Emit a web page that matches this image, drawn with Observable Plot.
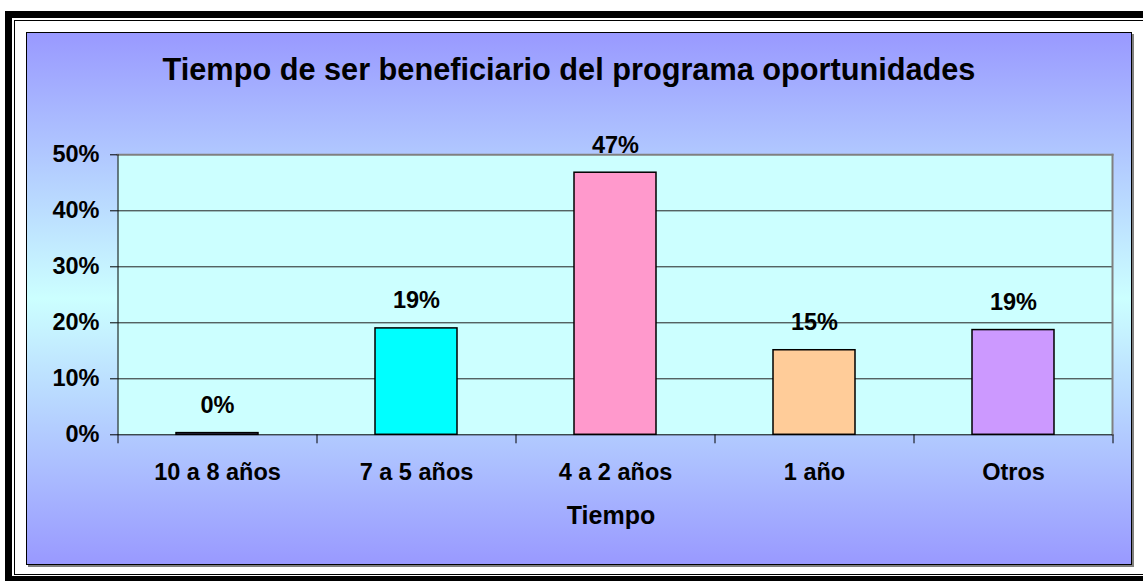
<!DOCTYPE html>
<html>
<head>
<meta charset="utf-8">
<script src="https://cdn.jsdelivr.net/npm/d3@7"></script>
<script src="https://cdn.jsdelivr.net/npm/@observablehq/plot@0.6"></script>
<style>
  html, body { margin: 0; padding: 0; width: 1143px; height: 581px; overflow: hidden; background: #fff; }
  body { position: relative; font-family: "Liberation Sans", Arial, sans-serif; }
  .frame-thick { position: absolute; left: 5px; top: 11px; width: 1300px; height: 572px; box-sizing: border-box; border: 7px solid #000; }
  .frame-thin { position: absolute; left: 14px; top: 20px; width: 1300px; height: 555px; box-sizing: border-box; border: 1px solid #000; }
  .area { position: absolute; left: 26px; top: 32px; width: 1106px; height: 533px; box-sizing: border-box; border: 1px solid #000;
          background: linear-gradient(to bottom, #9999FF 0%, #CCFFFF 50%, #9999FF 100%); box-shadow: 2px 2px 0 #808080; }
  .title { position: absolute; left: 569px; top: 55px; transform: translateX(-50%); white-space: nowrap;
           font-size: 30.7px; line-height: 30px; font-weight: bold; color: #000; }
  .xlabel { position: absolute; left: 611px; top: 503px; transform: translateX(-50%); white-space: nowrap;
           font-size: 25px; line-height: 24px; font-weight: bold; color: #000; }
  #chart { position: absolute; left: 0; top: 0; }
</style>
</head>
<body>
<div class="frame-thick"></div>
<div class="frame-thin"></div>
<div class="area"></div>
<div class="title">Tiempo de ser beneficiario del programa oportunidades</div>
<div class="xlabel">Tiempo</div>
<div id="chart"></div>
<script>
const categories = ["10 a 8 años", "7 a 5 años", "4 a 2 años", "1 año", "Otros"];
const values = [0.3, 19.0, 46.8, 15.1, 18.7];
const valueLabels = ["0%", "19%", "47%", "15%", "19%"];
const barColors = ["#9999FF", "#00FFFF", "#FF99CC", "#FFCC99", "#CC99FF"];
const yTicks = [0, 10, 20, 30, 40, 50];
const yTickLabels = ["0%", "10%", "20%", "30%", "40%", "50%"];
const gridTicks = [10, 20, 30, 40];

const data = categories.map((c, i) => ({cat: c, val: values[i], label: valueLabels[i], color: barColors[i]}));

const W = 1143, H = 581;
const mL = 117, mR = 31, mT = 154.3, mB = 146.7;
const step = (W - mL - mR) / categories.length;
const font = "Liberation Sans, Arial, sans-serif";

const chart = Plot.plot({
  width: W,
  height: H,
  marginLeft: mL,
  marginRight: mR,
  marginTop: mT,
  marginBottom: mB,
  style: {background: "transparent", overflow: "visible", fontFamily: font, color: "#000"},
  x: {domain: categories, paddingInner: 0.59, paddingOuter: 0.295, axis: null},
  y: {domain: [0, 50], axis: null},
  marks: [
    Plot.frame({fill: "#CCFFFF", stroke: null}),
    Plot.gridY(gridTicks, {stroke: "#222", strokeOpacity: 1, strokeWidth: 1}),
    Plot.frame({anchor: "top", stroke: "#808080", strokeWidth: 2}),
    Plot.frame({anchor: "right", stroke: "#808080", strokeWidth: 2}),
    Plot.barY(data, {x: "cat", y: "val", fill: "color", stroke: "#000", strokeWidth: 1.5}),
    Plot.ruleY([0], {stroke: "#000", strokeWidth: 1}),
    Plot.ruleX([0], {x: () => categories[0], y1: 50, y2: 0, insetBottom: -9, dx: -step / 2, stroke: "#000"}),
    Plot.ruleX(categories.slice(1), {x: d => d, y1: 0, y2: 0, insetBottom: -9, dx: -step / 2, stroke: "#000"}),
    Plot.ruleX([categories[categories.length - 1]], {x: d => d, y1: 0, y2: 0, insetBottom: -9, dx: step / 2, stroke: "#000"}),
    Plot.axisY(yTicks, {
      tickFormat: d => yTickLabels[yTicks.indexOf(d)],
      tickSize: 7, tickPadding: 11,
      fontSize: 23.5, fontWeight: "bold", label: null, stroke: "#000"
    }),
    Plot.axisX(categories, {
      tickSize: 0, tickPadding: 29,
      fontSize: 23.5, fontWeight: "bold", label: null
    }),
    Plot.text(data, {x: "cat", y: "val", text: "label", dy: -20, lineAnchor: "bottom",
      fontSize: 23.5, fontWeight: "bold", fill: "#000"})
  ]
});
document.getElementById("chart").appendChild(chart);
</script>
</body>
</html>
